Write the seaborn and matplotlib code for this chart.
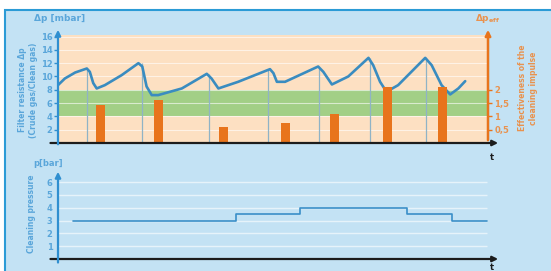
import matplotlib
matplotlib.use("Agg")
import matplotlib.pyplot as plt
import seaborn as sns
from matplotlib.patches import Rectangle

# filter resistance curve (time, delta p in mbar)
curve_t = [0, 1.6, 4.0, 6.7, 7.4, 8.2, 9.0, 10.9, 14.8, 18.7, 19.6, 20.6, 21.8, 23.3,
           28.8, 34.6, 35.7, 37.3, 41.9, 48.9, 49.3, 50.1, 50.9, 52.8, 60.5, 61.7,
           63.7, 67.5, 72.2, 73.3, 74.9, 76.4, 79.1, 85.4, 86.9, 89.2, 91.2, 93.1, 94.7]
curve_dp = [8.7, 9.7, 10.6, 11.2, 10.7, 9.0, 8.2, 8.7, 10.2, 12.0, 11.5, 8.5, 7.2, 7.2,
            8.2, 10.4, 9.7, 8.2, 9.2, 11.0, 11.1, 10.5, 9.2, 9.2, 11.5, 10.7,
            8.8, 10.0, 12.8, 11.7, 9.2, 7.7, 8.7, 12.8, 11.7, 8.7, 7.3, 8.2, 9.3]

# cleaning events (vertical lines) and their peak
clean_t = [6.7, 19.5, 35.1, 48.8, 60.7, 72.6, 85.6]
clean_peak = [11.2, 12.0, 10.4, 11.0, 11.5, 12.8, 12.8]

# effectiveness of the cleaning impulse
bar_t = [9.8, 23.3, 38.4, 52.8, 64.4, 76.7, 89.5]
bar_eff = [1.42, 1.6, 0.6, 0.75, 1.08, 2.12, 2.1]

# cleaning pressure steps
step_t = [3.5, 41.4, 56.3, 81.2, 91.6, 99.8]
step_p = [3, 3.5, 4, 3.5, 3, 3]

left_ticks = [2, 4, 6, 8, 10, 12, 14, 16]
right_ticks = [0.5, 1, 1.5, 2]
right_labels = ["0,5", "1", "1,5", "2"]
p_ticks = [1, 2, 3, 4, 5, 6]

BG = "#c3e2f4"
BLUE = "#2f8fd0"
TXT_BLUE = "#5aa6da"
ORANGE = "#e8741c"
TXT_ORANGE = "#e9924e"
PEACH = "#fde0c2"
GREEN = "#a2cf86"
CURVE = "#3a8cc0"

sns.set_style("white")
plt.rcParams["font.family"] = ["DejaVu Sans"]

W, H = 551, 271
fig = plt.figure(figsize=(W / 100, H / 100), dpi=100, facecolor="white")
fig.patches.append(Rectangle((5 / W, -0.1), 1.2, (H - 10) / H + 0.1, transform=fig.transFigure,
                             facecolor=BG, edgecolor="#2b9bd6", lw=1.5, zorder=-5))


def px_axes(x0, x1, ytop, ybot):
    return fig.add_axes([x0 / W, (H - ybot) / H, (x1 - x0) / W, (ybot - ytop) / H])


# ---- top panel ----
ax = px_axes(58, 488, 27, 143)
ax.set_facecolor("none")
ax.set_xlim(0, 100)
ax.set_ylim(0, 17.44)
ax.axhspan(0, 16.3, color=PEACH, lw=0, zorder=0)
ax.axhspan(4, 8, color=GREEN, lw=0, zorder=0.5)
ax.hlines(left_ticks, 0, 100, color="white", lw=0.8, alpha=0.6, zorder=0.6)
ax.vlines(clean_t, 0, clean_peak, color="#8fb3c6", lw=0.9, zorder=1)
sns.lineplot(x=curve_t, y=curve_dp, sort=False, color=CURVE, lw=1.9, ax=ax, zorder=3,
             solid_joinstyle="round", solid_capstyle="round")
ax.set_xticks([])
ax.set_yticks(left_ticks)
ax.tick_params(axis="y", colors=BLUE, labelcolor=TXT_BLUE, length=3, width=1, pad=1, labelsize=6)
for lab in ax.get_yticklabels():
    lab.set_fontweight("bold")
for s in ax.spines.values():
    s.set_visible(False)

ax2 = ax.twinx()
ax2.set_ylim(0, 17.44 / 4)
ax2.bar(bar_t, bar_eff, width=2.1, color=ORANGE, edgecolor="none", linewidth=0, zorder=2)
ax2.set_yticks(right_ticks)
ax2.set_yticklabels(right_labels, fontweight="bold")
ax2.tick_params(axis="y", colors=ORANGE, labelcolor=TXT_ORANGE, length=3, width=1, pad=1.5, labelsize=6)
for s in ax2.spines.values():
    s.set_visible(False)

arrow_k = dict(xycoords="axes fraction", textcoords="axes fraction", annotation_clip=False)
ax2.annotate("", xy=(1.03, 0), xytext=(-0.024, 0),
             arrowprops=dict(arrowstyle="-|>", color="#1c1c1c", lw=1.6, mutation_scale=8), **arrow_k)
ax2.annotate("", xy=(0, 1.0), xytext=(0, -0.035),
             arrowprops=dict(arrowstyle="-|>", color=BLUE, lw=1.6, mutation_scale=8), **arrow_k)
ax2.annotate("", xy=(1.0, 1.0), xytext=(1.0, 0),
             arrowprops=dict(arrowstyle="-|>", color=ORANGE, lw=1.8, mutation_scale=8), **arrow_k)

# ---- bottom panel ----
bx = px_axes(58, 488, 169, 259)
bx.set_facecolor("none")
bx.set_xlim(0, 100)
bx.set_ylim(0, 7.03)
bx.hlines(p_ticks, 0, 99.8, color="white", lw=1.0, alpha=0.6, zorder=0.5)
sns.lineplot(x=step_t, y=step_p, drawstyle="steps-post", color="#3a8fc8", lw=1.2, ax=bx, zorder=3)
bx.set_xticks([])
bx.set_yticks(p_ticks)
bx.tick_params(axis="y", colors=BLUE, labelcolor=TXT_BLUE, length=3, width=1, pad=1, labelsize=6)
for lab in bx.get_yticklabels():
    lab.set_fontweight("bold")
for s in bx.spines.values():
    s.set_visible(False)
bx.annotate("", xy=(1.03, 0), xytext=(-0.024, 0),
            arrowprops=dict(arrowstyle="-|>", color="#1c1c1c", lw=1.6, mutation_scale=8), **arrow_k)
bx.annotate("", xy=(0, 1.0), xytext=(0, -0.07),
            arrowprops=dict(arrowstyle="-|>", color=BLUE, lw=1.6, mutation_scale=8), **arrow_k)


# ---- texts (figure pixel positions) ----
def ftext(x, y, s, **kw):
    fig.text(x / W, 1 - y / H, s, fontweight="bold", **kw)


ftext(60, 19, "Δp [mbar]", color=TXT_BLUE, fontsize=6.5, ha="center", va="center")
ftext(488, 19, r"Δp$_{\mathbf{eff}}$", color=TXT_ORANGE, fontsize=6.5, ha="center", va="center")
ftext(28, 90, "Filter resistance Δp\n(Crude gas/Clean gas)", color=TXT_BLUE, fontsize=5.5,
      rotation=90, ha="center", va="center", linespacing=1.3)
ftext(528, 88, "Effectiveness of the\ncleaning impulse", color=TXT_ORANGE, fontsize=5.5,
      rotation=90, ha="center", va="center", linespacing=1.3)
ftext(48, 164, "p[bar]", color=TXT_BLUE, fontsize=6, ha="center", va="center")
ftext(31, 214, "Cleaning pressure", color=TXT_BLUE, fontsize=5.5, rotation=90, ha="center", va="center")
ftext(492, 157, "t", color="#1c1c1c", fontsize=6, ha="center", va="center")
ftext(492, 263, "t", color="#1c1c1c", fontsize=6, ha="center", va="top")

fig.savefig("out.png", dpi=100, facecolor="white")
